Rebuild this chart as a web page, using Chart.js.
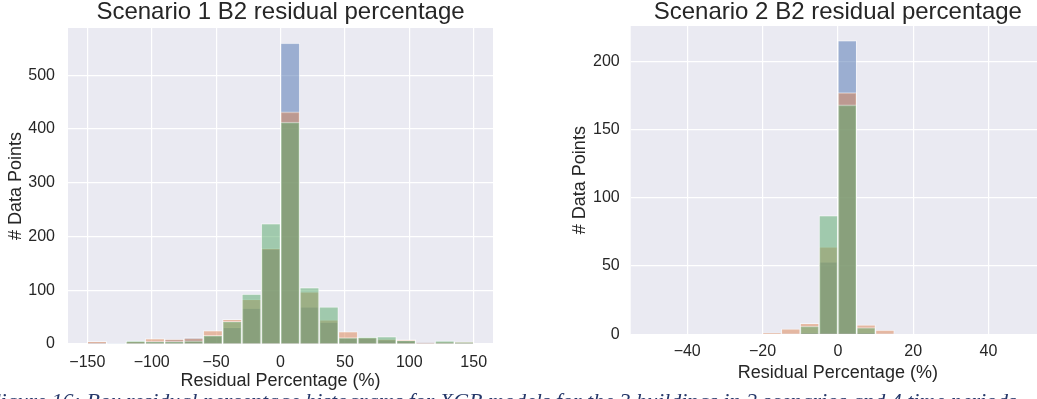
<!DOCTYPE html>
<html>
<head>
<meta charset="utf-8">
<script src="https://cdn.jsdelivr.net/npm/chart.js@4.4.0/dist/chart.umd.min.js"></script>
<style>
  html, body { margin: 0; padding: 0; background: #fff; }
  body { width: 1037px; height: 399px; overflow: hidden; position: relative; }
  #chart1 { position: absolute; left: 0; top: 0; }
  #chart2 { position: absolute; left: 560px; top: 0; }
  .caption {
    position: absolute; left: -13px; top: 390px; white-space: nowrap;
    font: italic 22px "Liberation Serif", "DejaVu Serif", serif; color: #26386a;
    line-height: 1;
  }
</style>
</head>
<body>
<canvas id="chart1" width="520" height="399"></canvas>
<canvas id="chart2" width="485" height="399"></canvas>
<div class="caption">Figure 16: Box residual percentage histograms for XGB models for the 3 buildings in 2 scenarios and 4 time periods</div>
<script>
// Scenario 1: 20 bins of width 15 between -150 and 150
const s1Centers = [-142.5, -127.5, -112.5, -97.5, -82.5, -67.5, -52.5, -37.5, -22.5, -7.5,
                   7.5, 22.5, 37.5, 52.5, 67.5, 82.5, 97.5, 112.5, 127.5, 142.5];
const s1Blue   = [3, 1, 5, 6, 9, 12, 15, 31, 67, 177, 560, 69, 41, 12, 12, 8, 7, 2, 3, 2];
const s1Orange = [5, 0, 5, 10, 9, 11, 25, 46, 83, 178, 432, 97, 45, 23, 12, 9, 8, 2, 3, 4];
const s1Green  = [0, 0, 6, 5, 5, 6, 16, 42, 93, 224, 413, 105, 69, 12, 13, 14, 7, 0, 6, 3];
const s1XTicks = [-150, -100, -50, 0, 50, 100, 150];
const s1YTicks = [0, 100, 200, 300, 400, 500];

// Scenario 2: 20 bins of width 5 between -50 and 50
const s2Centers = [-47.5, -42.5, -37.5, -32.5, -27.5, -22.5, -17.5, -12.5, -7.5, -2.5,
                   2.5, 7.5, 12.5, 17.5, 22.5, 27.5, 32.5, 37.5, 42.5, 47.5];
const s2Blue   = [0, 0, 0, 0, 0, 0, 0, 0, 1, 53, 215, 1, 0, 0, 0, 0, 0, 0, 0, 0];
const s2Orange = [0, 0, 0, 0, 0, 0, 1, 4, 8, 64, 177, 7, 3, 0, 0, 0, 0, 0, 0, 0];
const s2Green  = [0, 0, 0, 0, 0, 0, 0, 0, 6, 87, 168, 5, 0, 0, 0, 0, 0, 0, 0, 0];
const s2XTicks = [-40, -20, 0, 20, 40];
const s2YTicks = [0, 50, 100, 150, 200];

const FONT = '"Liberation Sans", Arial, sans-serif';
const INK = '#262626';

const plotBackground = {
  id: 'plotBackground',
  beforeDraw(chart) {
    const { ctx, chartArea: a } = chart;
    ctx.save();
    ctx.fillStyle = '#eaeaf2';
    ctx.fillRect(a.left, a.top, a.width, a.height);
    ctx.restore();
  }
};

function toPoints(centers, counts) {
  return centers.map((c, i) => ({ x: c, y: counts[i] }));
}

function minusLabel(v) {
  return v < 0 ? '\u2212' + Math.abs(v) : String(v);
}

function histogram(id, opt) {
  const series = [
    { data: opt.blue, color: 'rgba(76, 114, 176, 0.5)', order: 3 },
    { data: opt.orange, color: 'rgba(221, 132, 82, 0.5)', order: 2 },
    { data: opt.green, color: 'rgba(85, 168, 104, 0.5)', order: 1 },
  ];

  return new Chart(document.getElementById(id), {
    type: 'bar',
    data: {
      datasets: series.map((s) => ({
        data: toPoints(opt.centers, s.data),
        backgroundColor: s.color,
        borderColor: 'rgba(255, 255, 255, 0.5)',
        borderWidth: 1,
        borderSkipped: 'bottom',
        barPercentage: 1,
        categoryPercentage: 1,
        grouped: false,
        order: s.order,
      })),
    },
    options: {
      responsive: false,
      animation: false,
      events: [],
      layout: { padding: { left: 0, right: opt.padRight, top: 0, bottom: 0 } },
      plugins: {
        legend: { display: false },
        tooltip: { enabled: false },
        title: {
          display: true,
          text: opt.title,
          fullSize: false,
          color: INK,
          font: { family: FONT, size: 24, weight: 'normal', lineHeight: 1 },
          padding: { top: 0, bottom: opt.titleGap },
        },
      },
      scales: {
        x: {
          type: 'linear',
          min: opt.xMin,
          max: opt.xMax,
          offset: false,
          afterBuildTicks: (scale) => { scale.ticks = opt.xTicks.map((v) => ({ value: v })); },
          afterFit: (scale) => { scale.height = opt.xAxisHeight; },
          grid: { color: '#ffffff', lineWidth: 1.2, drawTicks: false, offset: false },
          border: { display: false },
          ticks: {
            color: INK, padding: opt.xTickPad,
            font: { family: FONT, size: 16 },
            maxRotation: 0, autoSkip: false,
            callback: (v) => minusLabel(v),
          },
          title: {
            display: true, text: 'Residual Percentage (%)', color: INK,
            font: { family: FONT, size: 18 },
            padding: { top: 0, bottom: opt.xTitlePad },
          },
        },
        y: {
          min: 0,
          max: opt.yMax,
          afterBuildTicks: (scale) => { scale.ticks = opt.yTicks.map((v) => ({ value: v })); },
          afterFit: (scale) => { scale.width = opt.yAxisWidth; },
          grid: { color: '#ffffff', lineWidth: 1.2, drawTicks: false },
          border: { display: false },
          ticks: {
            color: INK, padding: opt.yTickPad,
            font: { family: FONT, size: 16 },
            callback: (v) => minusLabel(v),
          },
          title: {
            display: true, text: '# Data Points', color: INK,
            font: { family: FONT, size: 18 },
            padding: { top: opt.yTitlePad, bottom: 0 },
          },
        },
      },
    },
    plugins: [plotBackground],
  });
}

histogram('chart1', {
  title: 'Scenario 1 B2 residual percentage',
  centers: s1Centers, blue: s1Blue, orange: s1Orange, green: s1Green,
  xTicks: s1XTicks, yTicks: s1YTicks,
  xMin: -165, xMax: 165, yMax: 588,
  padRight: 27, titleGap: 4, xAxisHeight: 55, yAxisWidth: 68,
  xTickPad: 8.5, xTitlePad: 7, yTickPad: 13, yTitlePad: 5,
});

histogram('chart2', {
  title: 'Scenario 2 B2 residual percentage',
  centers: s2Centers, blue: s2Blue, orange: s2Orange, green: s2Green,
  xTicks: s2XTicks, yTicks: s2YTicks,
  xMin: -55, xMax: 55, yMax: 225.75,
  padRight: 0, titleGap: 2, xAxisHeight: 64.7, yAxisWidth: 70.7,
  xTickPad: 8, xTitlePad: 15, yTickPad: 11, yTitlePad: 9,
});
</script>
</body>
</html>
